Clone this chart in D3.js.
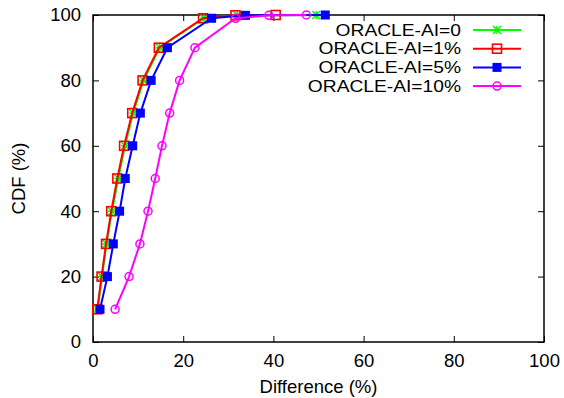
<!DOCTYPE html>
<html>
<head>
<meta charset="utf-8">
<script src="https://cdn.jsdelivr.net/npm/d3@7"></script>
<style>
  body { margin: 0; background: #fff; }
  text { font-family: "Liberation Sans", Arial, sans-serif; fill: #000; }
</style>
</head>
<body>
<div id="chart"></div>
<script>
// CDF levels (%) shared by every series
const cdfLevels = [10, 20, 30, 40, 50, 60, 70, 80, 90, 99, 99.9, 100];

// difference (%) at each level
const ai0  = [1.0, 2.0, 3.0, 4.2, 5.6, 7.1, 8.9, 11.2, 14.8, 24.6, 32.0, 49.5];
const ai1  = [0.95, 1.9, 2.9, 4.05, 5.4, 6.9, 8.7, 11.0, 14.6, 24.4, 31.6, 40.5];
const ai5  = [1.55, 3.2, 4.5, 5.9, 7.15, 8.8, 10.5, 12.9, 16.5, 26.3, 33.8, 51.5];
const ai10 = [4.9, 8.0, 10.4, 12.2, 13.8, 15.3, 17.0, 19.2, 22.6, 31.6, 39.0, 47.3];

const seriesNames = ["ORACLE-AI=0", "ORACLE-AI=1%", "ORACLE-AI=5%", "ORACLE-AI=10%"];
const seriesValues = [ai0, ai1, ai5, ai10];
const seriesColors = ["#00ff00", "#ff0000", "#0000ff", "#ff00ff"];
const seriesMarks = ["star", "square", "filled", "circle"];

const xTicks = [0, 20, 40, 60, 80, 100];
const yTicks = [0, 20, 40, 60, 80, 100];

const W = 564, H = 398;
const mLeft = 93, mRight = 544, mTop = 15, mBottom = 342;
const fontSize = "18.5px";

const svg = d3.select("#chart").append("svg")
    .attr("width", W)
    .attr("height", H);

const x = d3.scaleLinear().domain([0, 100]).range([mLeft, mRight]);
const y = d3.scaleLinear().domain([0, 100]).range([mBottom, mTop]);

// axes, ticks drawn inward and mirrored
function styleAxis(g) {
    g.select(".domain").remove();
    g.selectAll(".tick line").attr("stroke", "#000").attr("stroke-width", 1);
    g.selectAll("text").style("font-size", fontSize);
}
svg.append("g")
    .attr("transform", "translate(0," + mBottom + ")")
    .call(d3.axisBottom(x).tickValues(xTicks).tickSizeInner(-6).tickSizeOuter(0).tickPadding(12))
    .call(styleAxis);
svg.append("g")
    .attr("transform", "translate(0," + mTop + ")")
    .call(d3.axisTop(x).tickValues(xTicks).tickSizeInner(-6).tickSizeOuter(0).tickFormat(""))
    .call(styleAxis);
svg.append("g")
    .attr("transform", "translate(" + mLeft + ",0)")
    .call(d3.axisLeft(y).tickValues(yTicks).tickSizeInner(-6).tickSizeOuter(0).tickPadding(12))
    .call(styleAxis);
svg.append("g")
    .attr("transform", "translate(" + mRight + ",0)")
    .call(d3.axisRight(y).tickValues(yTicks).tickSizeInner(-6).tickSizeOuter(0).tickFormat(""))
    .call(styleAxis);

svg.append("rect")
    .attr("x", mLeft).attr("y", mTop)
    .attr("width", mRight - mLeft).attr("height", mBottom - mTop)
    .attr("fill", "none").attr("stroke", "#000").attr("stroke-width", 1.5);

svg.append("text")
    .attr("x", (mLeft + mRight) / 2).attr("y", 393)
    .attr("text-anchor", "middle")
    .style("font-size", fontSize)
    .text("Difference (%)");
svg.append("text")
    .attr("transform", "translate(25," + ((mTop + mBottom) / 2) + ") rotate(-90)")
    .attr("text-anchor", "middle")
    .style("font-size", fontSize)
    .text("CDF (%)");

function drawMark(g, kind, color) {
    if (kind === "star") {
        const s = 4;
        g.append("path")
            .attr("d", `M${-s},0H${s}M0,${-s}V${s}M${-s},${-s}L${s},${s}M${-s},${s}L${s},${-s}`)
            .attr("stroke", color).attr("stroke-width", 1.5).attr("fill", "none");
    } else if (kind === "square") {
        g.append("rect").attr("x", -4.5).attr("y", -4.5).attr("width", 9).attr("height", 9)
            .attr("fill", "none").attr("stroke", color).attr("stroke-width", 1.6);
    } else if (kind === "filled") {
        g.append("rect").attr("x", -4.5).attr("y", -4.5).attr("width", 9).attr("height", 9)
            .attr("fill", color);
    } else {
        g.append("circle").attr("r", 4)
            .attr("fill", "none").attr("stroke", color).attr("stroke-width", 1.5);
    }
}

const line = d3.line()
    .x(d => x(d[0]))
    .y(d => y(d[1]));

seriesValues.forEach((vals, i) => {
    const pts = vals.map((v, j) => [v, cdfLevels[j]]);
    svg.append("path")
        .datum(pts)
        .attr("d", line)
        .attr("fill", "none")
        .attr("stroke", seriesColors[i])
        .attr("stroke-width", 2);
    pts.forEach(p => {
        const g = svg.append("g").attr("transform", `translate(${x(p[0])},${y(p[1])})`);
        drawMark(g, seriesMarks[i], seriesColors[i]);
    });
});

// legend (text in the original is a bit wide, so stretch it)
const legend = svg.append("g");
seriesNames.forEach((name, i) => {
    const ly = 30 + i * 18.7;
    const t = legend.append("text")
        .attr("x", 461).attr("y", ly)
        .attr("dy", "0.35em")
        .attr("text-anchor", "end")
        .style("font-size", "16px")
        .text(name);
    const len = t.node().getComputedTextLength();
    t.attr("textLength", len * 1.2).attr("lengthAdjust", "spacingAndGlyphs");
    legend.append("line")
        .attr("x1", 473).attr("x2", 521)
        .attr("y1", ly).attr("y2", ly)
        .attr("stroke", seriesColors[i]).attr("stroke-width", 2);
    const g = legend.append("g").attr("transform", `translate(497,${ly})`);
    drawMark(g, seriesMarks[i], seriesColors[i]);
});
</script>
</body>
</html>
